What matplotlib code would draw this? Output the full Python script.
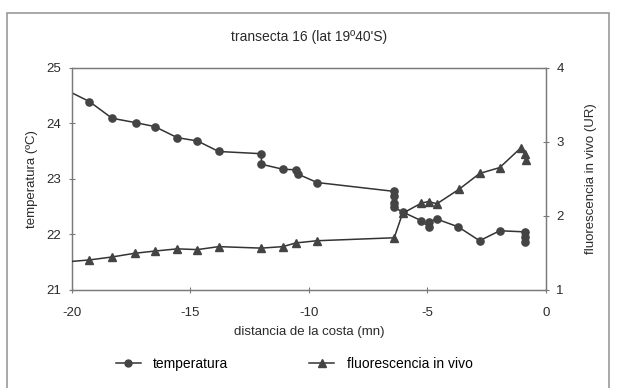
import matplotlib
matplotlib.use("Agg")
import matplotlib.pyplot as plt
from matplotlib.patches import Rectangle
from matplotlib.lines import Line2D

plt.rcParams['font.family'] = ['Liberation Sans', 'DejaVu Sans']

# Temperature profile along the transect
temp_dist = [-20.0, -19.25, -18.3, -17.3, -16.5, -15.55, -14.7, -13.8,
             -12.0, -12.0, -11.1, -10.55, -10.45, -9.65,
             -6.4, -6.4, -6.4, -6.4, -6.05, -5.25, -4.95, -4.95, -4.6,
             -3.7, -2.8, -1.95, -0.9, -0.9, -0.9]
temp_vals = [24.55, 24.39, 24.09, 24.01, 23.94, 23.74, 23.68, 23.49,
             23.45, 23.26, 23.17, 23.16, 23.08, 22.93,
             22.77, 22.68, 22.56, 22.48, 22.40, 22.24, 22.13, 22.22, 22.27,
             22.13, 21.88, 22.06, 22.04, 21.94, 21.86]

# In vivo fluorescence along the transect
fluo_dist = [-20.0, -19.25, -18.3, -17.35, -16.5, -15.55, -14.7, -13.8,
             -12.0, -11.1, -10.55, -9.65,
             -6.4, -6.05, -5.25, -4.95, -4.6,
             -3.65, -2.8, -1.95, -1.05, -0.9, -0.85]
fluo_vals = [1.38, 1.40, 1.44, 1.49, 1.52, 1.55, 1.54, 1.58,
             1.56, 1.58, 1.63, 1.66,
             1.70, 2.03, 2.17, 2.19, 2.16,
             2.36, 2.57, 2.65, 2.92, 2.84, 2.75]

x_ticks = [-20, -15, -10, -5, 0]
temp_ticks = [21, 22, 23, 24, 25]
fluo_ticks = [1, 2, 3, 4]

W, H = 618, 388
fig = plt.figure(figsize=(W / 100, H / 100), dpi=100)
fig.patch.set_facecolor('white')

# outer chart frame
fig.patches.append(Rectangle((7 / W, -0.01), 602 / W, (H - 13) / H + 0.01,
                             transform=fig.transFigure, fill=False,
                             edgecolor='#9a9a9a', linewidth=1.2))

left, right = 71.7 / W, 546 / W
bottom, top = 1 - 289.5 / H, 1 - 67.8 / H
ax = fig.add_axes([left, bottom, right - left, top - bottom])
ax2 = ax.twinx()

line_col = '#333333'
mark_col = '#444444'

ax.plot(temp_dist, temp_vals, color=line_col, lw=1.1, marker='o', ms=5.2,
        mfc=mark_col, mec=mark_col, markevery=list(range(1, len(temp_dist))),
        clip_on=True, zorder=3)
ax2.plot(fluo_dist, fluo_vals, color=line_col, lw=1.1, marker='^', ms=6,
         mfc=mark_col, mec=mark_col, markevery=list(range(1, len(fluo_dist))),
         clip_on=True, zorder=3)

ax.set_xlim(-20, 0)
ax.set_ylim(21, 25)
ax2.set_ylim(1, 4)
ax.set_xticks(x_ticks)
ax.set_xticklabels([str(t) for t in x_ticks])
ax.set_yticks(temp_ticks)
ax2.set_yticks(fluo_ticks)

txt_col = '#2a2a2a'
for a in (ax, ax2):
    for s in a.spines.values():
        s.set_color('#7a7a7a')
        s.set_linewidth(0.9)
    a.tick_params(direction='inout', length=5, width=0.8, color='#7a7a7a',
                  labelsize=9.5, labelcolor=txt_col, pad=5)
ax.tick_params(axis='x', pad=10)

ax.set_xlabel('distancia de la costa (mn)', fontsize=9.5, color=txt_col, labelpad=5)
ax.set_ylabel('temperatura (ºC)', fontsize=9.5, color=txt_col, labelpad=6)
ax2.set_ylabel('fluorescencia in vivo (UR)', fontsize=9.5, color=txt_col,
               rotation=90, labelpad=15)
ax.set_title('transecta 16 (lat 19º40\'S)', fontsize=10, color=txt_col, pad=19)

handles = [
    Line2D([], [], color=line_col, lw=1.1, marker='o', ms=5, mfc=mark_col, mec=mark_col),
    Line2D([], [], color=line_col, lw=1.1, marker='^', ms=6, mfc=mark_col, mec=mark_col),
]
fig.legend(handles, ['temperatura', 'fluorescencia in vivo'], loc='center',
           bbox_to_anchor=(0.476, 1 - 364 / H), ncol=2, frameon=False,
           fontsize=10, handlelength=1.8, handletextpad=0.9, columnspacing=5.8)

fig.savefig('out.png', dpi=100)
